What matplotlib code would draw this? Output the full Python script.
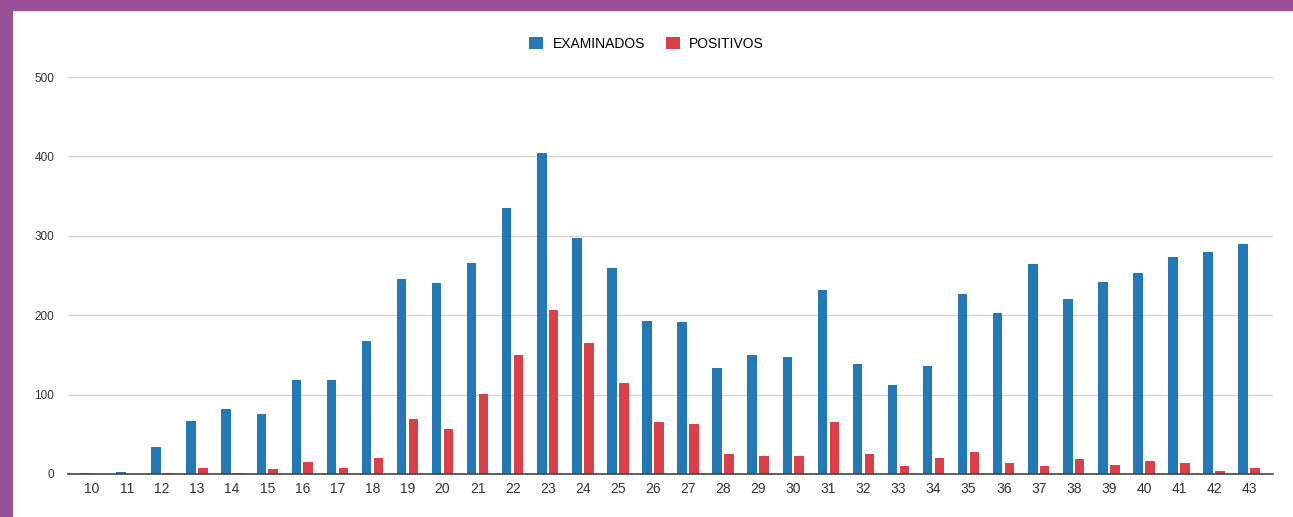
#!/usr/bin/env python3
"""Weekly examined vs positive counts, grouped bars."""
import matplotlib
matplotlib.use("Agg")
import matplotlib.pyplot as plt
from matplotlib.patches import Rectangle
import numpy as np

weeks = list(range(10, 44))
examinados = [1, 3, 34, 67, 82, 76, 118, 118, 168, 246, 241, 266, 335, 404, 297, 259,
              193, 191, 133, 150, 147, 232, 139, 112, 136, 227, 203, 265, 221, 242, 253,
              273, 280, 290]
positivos = [0, 0, 1, 8, 1, 6, 15, 8, 20, 69, 57, 101, 150, 206, 165, 115,
             66, 63, 25, 23, 23, 65, 25, 10, 20, 28, 14, 10, 19, 11, 16,
             14, 4, 7]

BLUE = "#2378b5"
RED = "#d9404a"
PURPLE = "#985196"

plt.rcParams["font.family"] = ["Liberation Sans", "DejaVu Sans"]

W, H = 1293, 517
fig = plt.figure(figsize=(W / 100, H / 100), dpi=100)
fig.patch.set_facecolor("white")

# purple frame (top and left)
fig.add_artist(Rectangle((0, 1 - 10 / H), 1, 10 / H, transform=fig.transFigure,
                         color=PURPLE, zorder=0))
fig.add_artist(Rectangle((0, 0), 12 / W, 1, transform=fig.transFigure,
                         color=PURPLE, zorder=0))

ax = fig.add_axes([68 / W, 43 / H, (1273 - 68) / W, (474 - 77) / H])
x = np.array(weeks)
bw = 0.27
ax.bar(x - 0.17, examinados, bw, color=BLUE, label="EXAMINADOS", zorder=3)
ax.bar(x + 0.17, positivos, bw, color=RED, label="POSITIVOS", zorder=3)

ax.set_xlim(9.32, 43.68)
ax.set_ylim(0, 500)
ax.set_yticks([0, 100, 200, 300, 400, 500])
ax.set_xticks(weeks)
ax.set_xticklabels([str(w) for w in weeks])
ax.grid(axis="y", color="#d8d2d2", lw=1.0, zorder=0)
for s in ["top", "right", "left"]:
    ax.spines[s].set_visible(False)
ax.spines["bottom"].set_color("#444444")
ax.spines["bottom"].set_linewidth(1.2)
ax.spines["bottom"].set_zorder(4)
ax.tick_params(axis="y", length=0, pad=10, labelsize=8.5, labelcolor="#333333")
ax.tick_params(axis="x", length=0, pad=6, labelsize=10, labelcolor="#333333")

fig.legend(loc="center", bbox_to_anchor=(0.5, 1 - 44 / H), ncol=2, frameon=False,
           fontsize=10, handlelength=1.0, handleheight=1.0, columnspacing=1.5,
           handletextpad=0.7)

fig.savefig("out.png", dpi=100)
